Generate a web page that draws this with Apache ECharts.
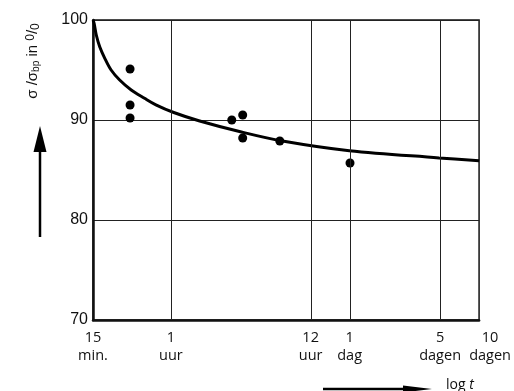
<!DOCTYPE html>
<html>
<head>
<meta charset="utf-8">
<script src="https://cdn.jsdelivr.net/npm/echarts@6/dist/echarts.min.js"></script>
<style>
html,body{margin:0;padding:0;background:#fff;}
#c{width:514px;height:391px;}
</style>
</head>
<body>
<div id="c"></div>
<script>
// tick positions (minutes) and labels
var tickMinutes = [15, 60, 720, 1440, 7200, 14400];
var tickTop = ['15', '1', '12', '1', '5', '10'];
var tickBottom = ['min.', 'uur', 'uur', 'dag', 'dagen', 'dagen'];
var yTicks = [70, 80, 90, 100];

// measured points (time in minutes, sigma/sigma_bp in %)
var pointMinutes = [29, 29, 29, 177, 215, 215, 416, 1450];
var pointValues = [95.1, 91.5, 90.2, 90.0, 90.5, 88.2, 87.9, 85.7];

// fitted curve
var curveMinutes = [15, 15.3, 15.9, 16.9, 18.5, 20.7, 24.1, 29.6, 37.5, 45.9, 63.1, 100, 203, 436, 1432, 7063, 14400];
var curveValues = [100, 99.67, 98.5, 97.33, 96.17, 95.0, 94.0, 93.0, 92.17, 91.52, 90.75, 89.9, 88.85, 87.9, 86.93, 86.21, 85.92];

var lg = function (m) { return Math.log10(m); };
var chart = echarts.init(document.getElementById('c'), null, {renderer: 'canvas'});

var tickLog = tickMinutes.map(lg);
var lastIdx = tickLog.length - 1;
function labelFor(v) {
  var best = 0, d = 1e9;
  for (var i = 0; i < tickLog.length; i++) {
    var dd = Math.abs(tickLog[i] - v);
    if (dd < d) { d = dd; best = i; }
  }
  var st = best === lastIdx ? 'r' : 'n';
  return '{' + st + '|' + tickTop[best] + '}\n{' + st + '|' + tickBottom[best] + '}';
}
var labelRich = {
  n: {fontFamily: 'Open Sans', fontSize: 14.5, lineHeight: 18, color: '#111'},
  r: {fontFamily: 'Open Sans', fontSize: 14.5, lineHeight: 18, color: '#111', padding: [0, 0, 0, 22]}
};
var xMin = lg(tickMinutes[0]);
var xMax = lg(tickMinutes[lastIdx]);

chart.setOption({
  animation: false,
  backgroundColor: '#fff',
  grid: {left: 93, top: 20, right: 34, bottom: 71, show: true, borderColor: '#111', borderWidth: 1.5},
  xAxis: [{
    type: 'value',
    min: xMin,
    max: xMax,
    axisLine: {show: true, lineStyle: {color: '#111', width: 2.5}},
    axisTick: {show: false},
    splitLine: {show: false},
    axisLabel: {
      customValues: tickLog.slice(0, lastIdx),
      showMinLabel: true,
      margin: 9,
      formatter: labelFor,
      color: '#111',
      rich: labelRich
    }
  }, {
    type: 'value',
    position: 'bottom',
    min: xMin,
    max: xMax,
    axisLine: {show: false},
    axisTick: {show: false},
    splitLine: {show: false},
    axisLabel: {
      customValues: [tickLog[lastIdx]],
      showMaxLabel: true,
      margin: 9,
      formatter: labelFor,
      color: '#111',
      rich: labelRich
    }
  }],
  yAxis: {
    type: 'value',
    min: yTicks[0],
    max: yTicks[yTicks.length - 1],
    interval: 10,
    axisLine: {show: true, lineStyle: {color: '#111', width: 2.5}},
    axisTick: {show: false},
    splitLine: {show: true, lineStyle: {color: '#222', width: 1}},
    axisLabel: {
      margin: 5,
      color: '#111',
      fontFamily: 'Liberation Sans',
      fontSize: 16
    }
  },
  series: [
    {
      type: 'line',
      data: curveMinutes.map(function (m, i) { return [lg(m), curveValues[i]]; }),
      smooth: 0.35,
      symbol: 'none',
      lineStyle: {color: '#000', width: 3},
      z: 3,
      markLine: {
        silent: true,
        symbol: 'none',
        label: {show: false},
        lineStyle: {color: '#222', width: 1, type: 'solid'},
        data: tickLog.slice(1, lastIdx).map(function (v) { return {xAxis: v}; })
      }
    },
    {
      type: 'scatter',
      data: pointMinutes.map(function (m, i) { return [lg(m), pointValues[i]]; }),
      symbol: 'circle',
      symbolSize: 9,
      itemStyle: {color: '#000', opacity: 1},
      z: 4
    }
  ],
  graphic: [
    {
      type: 'text',
      x: 33, y: 61,
      rotation: Math.PI / 2,
      style: {
        text: 'σ /σ{s|bp} in {sp|0}/{sb|0}',
        fill: '#111',
        font: '15px "Liberation Sans"',
        align: 'center',
        verticalAlign: 'middle',
        rich: {
          s: {fontSize: 10, fontFamily: 'Liberation Sans', verticalAlign: 'bottom', padding: [6, 0, 0, 0], fill: '#111'},
          sp: {fontSize: 12, fontFamily: 'Liberation Sans', padding: [0, 0, 5, 0], fill: '#111'},
          sb: {fontSize: 12, fontFamily: 'Liberation Sans', padding: [5, 0, 0, 0], fill: '#111'}
        }
      }
    },
    {
      type: 'line',
      shape: {x1: 40, y1: 237, x2: 40, y2: 148},
      style: {stroke: '#000', lineWidth: 2.5}
    },
    {
      type: 'polygon',
      shape: {points: [[40, 126], [33.5, 152], [46.5, 152]]},
      style: {fill: '#000'}
    },
    {
      type: 'line',
      shape: {x1: 323, y1: 389, x2: 405, y2: 389},
      style: {stroke: '#000', lineWidth: 2.5}
    },
    {
      type: 'polygon',
      shape: {points: [[403, 385.5], [432, 389], [403, 392.5]]},
      style: {fill: '#000'}
    },
    {
      type: 'text',
      x: 446, y: 385,
      style: {
        text: 'log {i|t}',
        fill: '#111',
        font: '14px "Open Sans"',
        align: 'left',
        verticalAlign: 'middle',
        rich: {i: {fontStyle: 'italic', fontFamily: 'Open Sans', fontSize: 14, fill: '#111'}}
      }
    }
  ]
});
</script>
</body>
</html>
